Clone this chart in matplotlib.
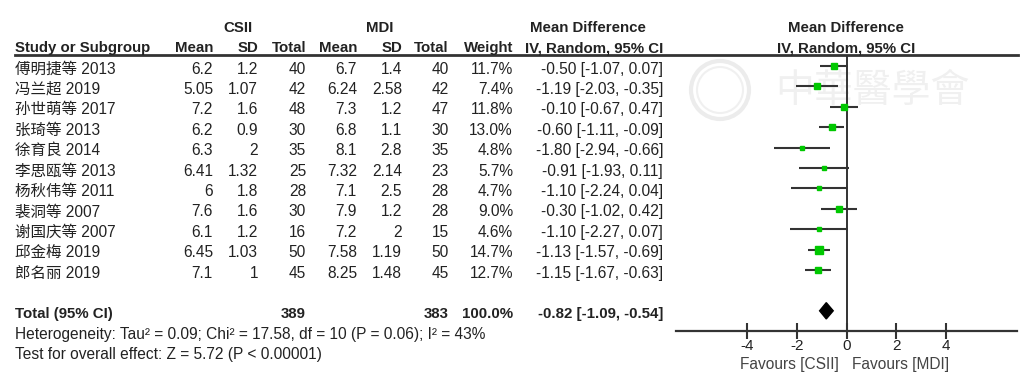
import numpy as np
import matplotlib
matplotlib.use('Agg')
import matplotlib.pyplot as plt
from matplotlib.patches import Ellipse

studies = ['傅明捷等 2013', '冯兰超 2019', '孙世萌等 2017', '张琦等 2013', '徐育良 2014',
           '李思瓯等 2013', '杨秋伟等 2011', '裴洞等 2007', '谢国庆等 2007', '邱金梅 2019', '郎名丽 2019']
csii_mean = ['6.2', '5.05', '7.2', '6.2', '6.3', '6.41', '6', '7.6', '6.1', '6.45', '7.1']
csii_sd = ['1.2', '1.07', '1.6', '0.9', '2', '1.32', '1.8', '1.6', '1.2', '1.03', '1']
csii_n = [40, 42, 48, 30, 35, 25, 28, 30, 16, 50, 45]
mdi_mean = ['6.7', '6.24', '7.3', '6.8', '8.1', '7.32', '7.1', '7.9', '7.2', '7.58', '8.25']
mdi_sd = ['1.4', '2.58', '1.2', '1.1', '2.8', '2.14', '2.5', '1.2', '2', '1.19', '1.48']
mdi_n = [40, 42, 47, 30, 35, 23, 28, 28, 15, 50, 45]
weight = [11.7, 7.4, 11.8, 13.0, 4.8, 5.7, 4.7, 9.0, 4.6, 14.7, 12.7]
md = [-0.50, -1.19, -0.10, -0.60, -1.80, -0.91, -1.10, -0.30, -1.10, -1.13, -1.15]
ci_lo = [-1.07, -2.03, -0.67, -1.11, -2.94, -1.93, -2.24, -1.02, -2.27, -1.57, -1.67]
ci_hi = [0.07, -0.35, 0.47, -0.09, -0.66, 0.11, 0.04, 0.42, 0.07, -0.69, -0.63]
total_csii, total_mdi = 389, 383
pooled_md, pooled_lo, pooled_hi = -0.82, -1.09, -0.54
xticks = [-4, -2, 0, 2, 4]

plt.rcParams['font.family'] = ['Liberation Sans', 'Noto Sans CJK SC']
plt.rcParams['font.size'] = 11.2
BOLD = 10.8
txt = '#222222'
line = '#333333'
green = '#00c800'

W, H = 1031, 383
row0, step = 66, 20.4          # pixel y of first study row, row spacing


def row(py):
    return (py - row0) / step


fig = plt.figure(figsize=(W / 100, H / 100), dpi=100)
tx = fig.add_axes([0, 0, 1, 1])
tx.set_xlim(0, W)
tx.set_ylim(row(H), row(0))
tx.axis('off')

# faint watermark
tx.add_patch(Ellipse((720, row(90)), 58, 58 / step, fill=False, ec='#ececec', lw=3, zorder=0))
tx.add_patch(Ellipse((720, row(90)), 46, 46 / step, fill=False, ec='#f0f0f0', lw=1.5, zorder=0))
tx.text(872, row(92), '中華醫學會', fontsize=28, color='#f0f0f0', ha='center', va='center',
        zorder=0)

# headers
hy1, hy2 = row(28), row(48)
tx.text(238, hy1, 'CSII', weight='bold', fontsize=BOLD, ha='center', va='center', color=txt)
tx.text(380, hy1, 'MDI', weight='bold', fontsize=BOLD, ha='center', va='center', color=txt)
tx.text(588, hy1, 'Mean Difference', weight='bold', fontsize=BOLD, ha='center', va='center', color=txt)
tx.text(846, hy1, 'Mean Difference', weight='bold', fontsize=BOLD, ha='center', va='center', color=txt)
tx.text(846, hy2, 'IV, Random, 95% CI', weight='bold', fontsize=BOLD, ha='center', va='center', color=txt)
cols = [(15, 'Study or Subgroup', 'left'), (213, 'Mean', 'right'), (258, 'SD', 'right'),
        (306, 'Total', 'right'), (357, 'Mean', 'right'), (402, 'SD', 'right'),
        (449, 'Total', 'right'), (513, 'Weight', 'right'), (663, 'IV, Random, 95% CI', 'right')]
for x, s, ha in cols:
    tx.text(x, hy2, s, weight='bold', fontsize=BOLD, ha=ha, va='center', color=txt)
tx.plot([15, 1018], [row(54.7)] * 2, color=line, lw=2)

# study rows
for i in range(len(studies)):
    vals = [(15, studies[i], 'left'), (213, csii_mean[i], 'right'), (258, csii_sd[i], 'right'),
            (306, str(csii_n[i]), 'right'), (357, mdi_mean[i], 'right'), (402, mdi_sd[i], 'right'),
            (449, str(mdi_n[i]), 'right'), (513, f'{weight[i]:.1f}%', 'right'),
            (663, f'{md[i]:.2f} [{ci_lo[i]:.2f}, {ci_hi[i]:.2f}]', 'right')]
    for x, s, ha in vals:
        tx.text(x, i + 0.15, s, ha=ha, va='center', color=txt)

ti = len(studies) + 1
tx.text(15, ti + 0.15, 'Total (95% CI)', weight='bold', fontsize=BOLD, ha='left', va='center', color=txt)
tx.text(306, ti + 0.15, str(total_csii), weight='bold', fontsize=BOLD, ha='right', va='center', color=txt)
tx.text(449, ti + 0.15, str(total_mdi), weight='bold', fontsize=BOLD, ha='right', va='center', color=txt)
tx.text(513, ti + 0.15, '100.0%', weight='bold', fontsize=BOLD, ha='right', va='center', color=txt)
tx.text(663, ti + 0.15, f'{pooled_md:.2f} [{pooled_lo:.2f}, {pooled_hi:.2f}]', weight='bold',
        fontsize=BOLD, ha='right', va='center', color=txt)
tx.text(15, ti + 1.15, 'Heterogeneity: Tau² = 0.09; Chi² = 17.58, df = 10 (P = 0.06); I² = 43%',
        ha='left', va='center', color=txt)
tx.text(15, ti + 2.15, 'Test for overall effect: Z = 5.72 (P < 0.00001)',
        ha='left', va='center', color=txt)
tx.text(839, row(364), 'Favours [CSII]', ha='right', va='center', color='#444444')
tx.text(852, row(364), 'Favours [MDI]', ha='left', va='center', color='#444444')

# forest panel
fx = fig.add_axes([676 / W, (H - 331) / H, (1017 - 676) / W, (331 - 54.7) / H])
fx.patch.set_alpha(0)
fx.set_xlim(-6.88, 6.87)
fx.set_ylim(row(331), row(54.7))
for s in ['top', 'left', 'right']:
    fx.spines[s].set_visible(False)
fx.spines['bottom'].set_color(line)
fx.spines['bottom'].set_linewidth(1.6)
fx.set_yticks([])
fx.set_xticks(xticks)
fx.set_xticklabels([str(t) for t in xticks])
fx.tick_params(axis='x', direction='inout', length=12, width=1.5, color=line,
               labelcolor=txt, pad=0, labelsize=11)
fx.axvline(0, color=line, lw=1.4, zorder=1)

y = np.arange(len(studies))
fx.hlines(y, ci_lo, ci_hi, color=line, lw=1.5, zorder=2)
sizes = 1.35 * np.sqrt(weight)
for yi, m, s in zip(y, md, sizes):
    fx.plot(m, yi, 's', color=green, ms=s, mec=green, zorder=3)
dh = 0.4
fx.fill([pooled_lo, pooled_md, pooled_hi, pooled_md], [ti, ti - dh, ti, ti + dh],
        color='black', zorder=3)

fig.savefig('out.png', dpi=100)
